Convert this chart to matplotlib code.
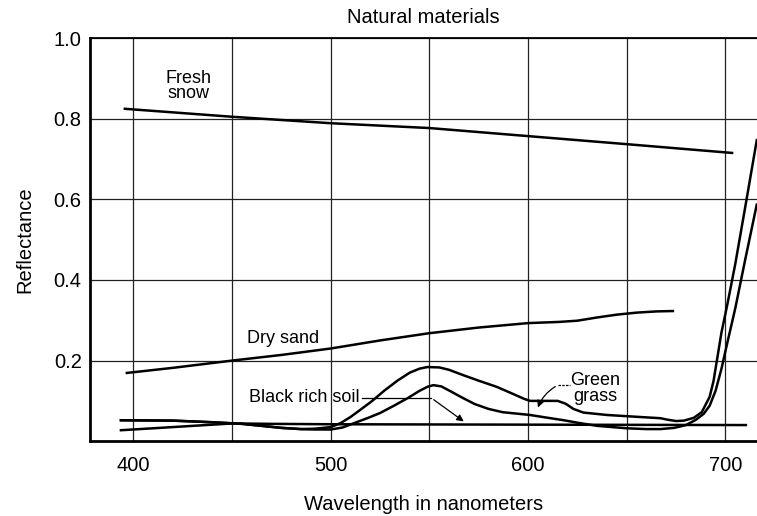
import matplotlib.pyplot as plt

plt.rcParams['font.family'] = ['Liberation Sans', 'DejaVu Sans']

# wavelength (nm) / reflectance
snow_x = [395, 450, 500, 550, 600, 650, 704]
snow_y = [0.825, 0.805, 0.789, 0.777, 0.757, 0.737, 0.715]

sand_x = [396, 420, 450, 475, 500, 525, 550, 575, 600, 616, 625, 635, 645, 655, 665, 674]
sand_y = [0.169, 0.182, 0.200, 0.214, 0.230, 0.250, 0.268, 0.282, 0.293, 0.296,
          0.299, 0.307, 0.314, 0.319, 0.322, 0.323]

soil_x = [393, 410, 430, 450, 470, 500, 600, 711]
soil_y = [0.027, 0.032, 0.038, 0.044, 0.043, 0.042, 0.041, 0.040]

grass_x = [393, 420, 440, 455, 465, 475, 485, 492, 500, 505, 510, 515, 521, 527,
           534, 540, 545, 549, 555, 560, 567, 575, 584, 592, 598, 601, 615, 619,
           623, 628, 640, 650, 667, 671, 675, 679, 684, 688, 692, 694, 696, 698,
           701, 705, 710, 716]
grass_y = [0.052, 0.051, 0.047, 0.043, 0.038, 0.033, 0.030, 0.031, 0.035, 0.045,
           0.060, 0.078, 0.100, 0.125, 0.151, 0.170, 0.180, 0.184, 0.183, 0.177,
           0.164, 0.150, 0.135, 0.118, 0.105, 0.100, 0.100, 0.093, 0.080, 0.071,
           0.065, 0.062, 0.057, 0.053, 0.050, 0.051, 0.058, 0.072, 0.110, 0.150,
           0.210, 0.270, 0.340, 0.440, 0.580, 0.750]

grass2_x = [393, 420, 440, 455, 465, 475, 485, 492, 500, 506, 513, 519, 525, 532,
            539, 545, 549, 552, 556, 561, 567, 573, 580, 587, 595, 601, 610, 618,
            626, 635, 650, 660, 667, 674, 680, 685, 689, 692, 695, 698, 701, 705,
            710, 716]
grass2_y = [0.052, 0.051, 0.047, 0.043, 0.038, 0.033, 0.030, 0.029, 0.029, 0.034,
            0.047, 0.058, 0.070, 0.088, 0.107, 0.125, 0.135, 0.139, 0.136, 0.123,
            0.107, 0.092, 0.080, 0.072, 0.068, 0.065, 0.058, 0.052, 0.045, 0.038,
            0.032, 0.030, 0.030, 0.033, 0.040, 0.053, 0.068, 0.088, 0.125, 0.180,
            0.245, 0.330, 0.450, 0.590]

x_ticks = [400, 500, 600, 700]
y_ticks = [0.2, 0.4, 0.6, 0.8, 1.0]

fig = plt.figure(figsize=(7.57, 5.16), dpi=100)
ax = fig.add_axes([0.119, 0.145, 0.881, 0.781])

for xs, ys in [(snow_x, snow_y), (sand_x, sand_y), (soil_x, soil_y),
               (grass_x, grass_y), (grass2_x, grass2_y)]:
    ax.plot(xs, ys, color='black', lw=1.8, solid_capstyle='butt', solid_joinstyle='round')

ax.set_xlim(378, 716)
ax.set_ylim(0, 1.0)
ax.set_xticks([400, 450, 500, 550, 600, 650, 700])
ax.set_xticklabels([str(v) if v in x_ticks else '' for v in range(400, 701, 50)])
ax.set_yticks(y_ticks)
ax.set_yticklabels(['%.1f' % v for v in y_ticks])
ax.grid(True, color='#222222', lw=0.9)
ax.tick_params(length=0, labelsize=14.5)
ax.tick_params(axis='y', pad=6)
ax.tick_params(axis='x', pad=11)
ax.spines['left'].set_linewidth(2)
ax.spines['bottom'].set_linewidth(2)
ax.spines['top'].set_linewidth(1.3)
ax.spines['right'].set_visible(False)

ax.set_title('Natural materials', fontsize=14.5, pad=11)
ax.set_xlabel('Wavelength in nanometers', fontsize=14.5, labelpad=14)
ax.set_ylabel('Reflectance', fontsize=14.5, labelpad=14)

ax.text(428, 0.881, 'Fresh\nsnow', ha='center', va='center', fontsize=13, linespacing=0.9)
ax.text(476, 0.256, 'Dry sand', ha='center', va='center', fontsize=13)
ax.text(514.5, 0.109, 'Black rich soil', ha='right', va='center', fontsize=13)
ax.text(634, 0.131, 'Green\ngrass', ha='center', va='center', fontsize=13, linespacing=0.9)

# leader lines
ax.plot([516, 551], [0.107, 0.107], color='black', lw=0.9)
ax.annotate('', xy=(568.5, 0.045), xytext=(551, 0.107),
            arrowprops=dict(arrowstyle='-|>', color='black', lw=0.9, mutation_scale=10))
ax.plot([615, 621], [0.139, 0.139], color='black', lw=0.9, ls=(0, (2, 1)))
ax.annotate('', xy=(604.5, 0.077), xytext=(615, 0.139),
            arrowprops=dict(arrowstyle='-|>', color='black', lw=0.9, mutation_scale=10,
                            connectionstyle='arc3,rad=0.2'))

fig.savefig('out.png', dpi=100)
